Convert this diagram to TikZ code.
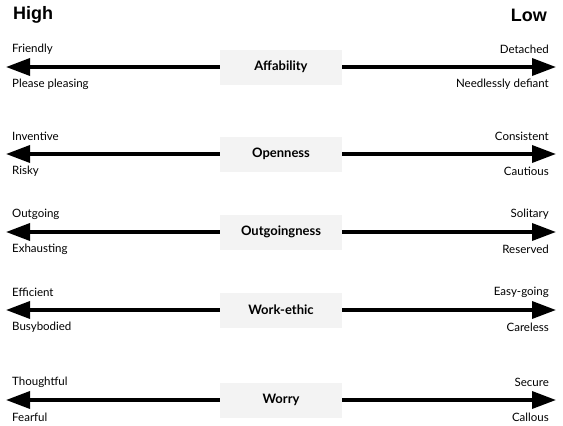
\documentclass[tikz,border=0pt]{standalone}
\usepackage{fontspec}
\setmainfont{Lato}
\newfontfamily\headfont{Liberation Sans}
\usetikzlibrary{arrows.meta}
\definecolor{boxgray}{HTML}{F3F3F3}
\begin{document}
\begin{tikzpicture}[x=1pt, y=-1pt,
    trait/.style={fill=boxgray, minimum width=122pt, minimum height=35pt, inner sep=0pt, font=\bfseries\fontsize{13}{15}\selectfont},
    pole/.style={inner sep=0pt, font=\fontsize{11.5}{13}\selectfont},
    axis/.style={line width=3.5pt, -{Triangle[length=24pt, width=17pt]}}]
    \useasboundingbox (0,0) rectangle (563,426);
    \node[anchor=west, inner sep=0pt, font=\headfont\bfseries\fontsize{18}{20}\selectfont] (high) at (13,15) {High};
    \node[anchor=east, inner sep=0pt, font=\headfont\bfseries\fontsize{18}{20}\selectfont] (low) at (547,15) {Low};
    \foreach \y/\name/\hiA/\hiB/\loA/\loB [count=\i] in {
        67/Affability/Friendly/Please pleasing/Detached/Needlessly defiant,
        154/Openness/Inventive/Risky/Consistent/Cautious,
        232/Outgoingness/Outgoing/Exhausting/Solitary/Reserved,
        310/Work-ethic/Efficient/Busybodied/Easy-going/Careless,
        400/Worry/Thoughtful/Fearful/Secure/Callous} {
        \node[trait] (trait\i) at (281,\y) {\name};
        \coordinate (hi\i) at (6,\y);
        \coordinate (lo\i) at (556,\y);
        \draw[axis] (trait\i) -- (hi\i);
        \draw[axis] (trait\i) -- (lo\i);
        \node[pole, anchor=west] (hiA\i) at (12,\y-18) {\hiA};
        \node[pole, anchor=west] (hiB\i) at (12,\y+17) {\hiB};
        \node[pole, anchor=east] (loA\i) at (549,\y-18) {\loA};
        \node[pole, anchor=east] (loB\i) at (549,\y+17) {\loB};
    }
\end{tikzpicture}
\end{document}
